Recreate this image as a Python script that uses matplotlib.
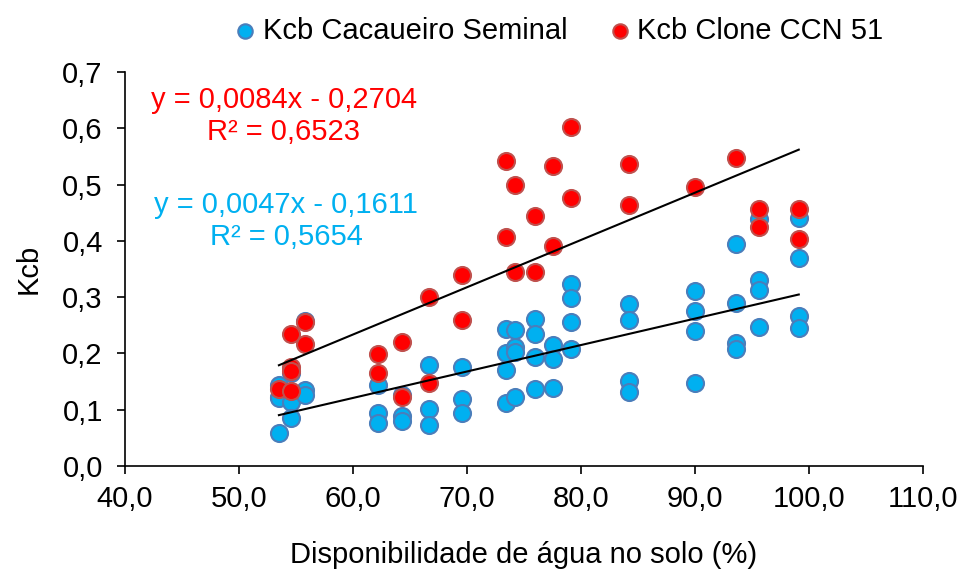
import numpy as np
import matplotlib.pyplot as plt

plt.rcParams['font.family'] = ['Liberation Sans', 'DejaVu Sans']

# Kcb Cacaueiro Seminal
x_seminal = [53.5, 53.5, 53.5, 53.5,
             54.6, 54.6, 54.6, 54.6,
             55.8, 55.8, 55.8,
             62.2, 62.2, 62.2,
             64.3, 64.3, 64.3,
             66.7, 66.7, 66.7,
             69.6, 69.6, 69.6,
             73.4, 73.4, 73.4, 73.4,
             74.2, 74.2, 74.2, 74.2,
             76.0, 76.0, 76.0, 76.0,
             77.5, 77.5, 77.5,
             79.1, 79.1, 79.1, 79.1,
             84.2, 84.2, 84.2, 84.2,
             90.0, 90.0, 90.0, 90.0,
             93.6, 93.6, 93.6, 93.6,
             95.6, 95.6, 95.6, 95.6,
             99.1, 99.1, 99.1, 99.1]
y_seminal = [0.144, 0.123, 0.120, 0.058,
             0.165, 0.130, 0.114, 0.085,
             0.258, 0.135, 0.126,
             0.144, 0.094, 0.077,
             0.126, 0.089, 0.080,
             0.179, 0.102, 0.073,
             0.176, 0.119, 0.095,
             0.243, 0.201, 0.171, 0.112,
             0.242, 0.212, 0.203, 0.122,
             0.261, 0.234, 0.193, 0.136,
             0.215, 0.190, 0.138,
             0.323, 0.298, 0.255, 0.207,
             0.288, 0.259, 0.151, 0.131,
             0.311, 0.276, 0.240, 0.148,
             0.394, 0.289, 0.219, 0.207,
             0.438, 0.330, 0.313, 0.247,
             0.440, 0.369, 0.266, 0.245]

# Kcb Clone CCN 51
x_clone = [53.5,
           54.6, 54.6, 54.6, 54.6,
           55.8, 55.8,
           62.2, 62.2,
           64.3, 64.3,
           66.7, 66.7,
           69.6, 69.6,
           73.4, 73.4,
           74.2, 74.2,
           76.0, 76.0,
           77.5, 77.5,
           79.1, 79.1,
           84.2, 84.2,
           90.0,
           93.6,
           95.6, 95.6,
           99.1, 99.1]
y_clone = [0.136,
           0.234, 0.176, 0.169, 0.134,
           0.255, 0.216,
           0.199, 0.166,
           0.220, 0.123,
           0.300, 0.147,
           0.339, 0.259,
           0.541, 0.407,
           0.499, 0.344,
           0.444, 0.344,
           0.533, 0.390,
           0.602, 0.477,
           0.536, 0.464,
           0.495,
           0.548,
           0.456, 0.425,
           0.456, 0.404]

# trend line coefficients (slope, intercept, R2)
fit_seminal = (0.0047, -0.1611, 0.5654)
fit_clone = (0.0084, -0.2704, 0.6523)

blue = '#00B0F0'
red = '#FF0000'
fs = 21

fig = plt.figure(figsize=(9.63, 5.77), dpi=100)
ax = fig.add_axes([0.1298, 0.1924, 0.8287, 0.6828])

ax.scatter(x_seminal, y_seminal, s=150, color=blue, edgecolors='#4A7EBB',
           linewidths=1.5, label='Kcb Cacaueiro Seminal', zorder=3)
ax.scatter(x_clone, y_clone, s=150, color=red, edgecolors='#C0504D',
           linewidths=1.5, label='Kcb Clone CCN 51', zorder=4)

for xs, fit in [(x_seminal, fit_seminal), (x_clone, fit_clone)]:
    xl = np.array([min(xs), max(xs)])
    ax.plot(xl, fit[0] * xl + fit[1], color='black', linewidth=1.5, zorder=5)

# equation labels
ax.text(0.199, 0.929, 'y = 0,0084x - 0,2704', transform=ax.transAxes,
        color=red, fontsize=fs, ha='center', va='center')
ax.text(0.199, 0.848, 'R² = 0,6523', transform=ax.transAxes,
        color=red, fontsize=fs, ha='center', va='center')
ax.text(0.202, 0.662, 'y = 0,0047x - 0,1611', transform=ax.transAxes,
        color=blue, fontsize=fs, ha='center', va='center')
ax.text(0.202, 0.581, 'R² = 0,5654', transform=ax.transAxes,
        color=blue, fontsize=fs, ha='center', va='center')

ax.set_xlim(40, 110)
ax.set_ylim(0, 0.7)
ax.set_xticks(np.arange(40, 111, 10))
ax.set_yticks(np.arange(0, 0.71, 0.1))
ax.set_xticklabels([f'{v:.1f}'.replace('.', ',') for v in np.arange(40, 111, 10)])
ax.set_yticklabels([f'{v:.1f}'.replace('.', ',') for v in np.arange(0, 0.71, 0.1)])
ax.tick_params(axis='both', labelsize=fs, direction='out', length=6, width=1.2, color='black')
ax.tick_params(axis='x', pad=8)
ax.tick_params(axis='y', pad=10)
ax.spines['top'].set_visible(False)
ax.spines['right'].set_visible(False)
for s in ['left', 'bottom']:
    ax.spines[s].set_linewidth(1.2)

ax.set_xlabel('Disponibilidade de água no solo (%)', fontsize=fs, labelpad=20)
ax.set_ylabel('Kcb', fontsize=fs, labelpad=14)

ax.legend(loc='lower center', bbox_to_anchor=(0.545, 1.04), ncol=2, frameon=False,
          fontsize=fs, markerscale=0.85, handlelength=0.6, handletextpad=0.3,
          columnspacing=1.5, borderaxespad=0)

fig.savefig('out.png', dpi=100)
